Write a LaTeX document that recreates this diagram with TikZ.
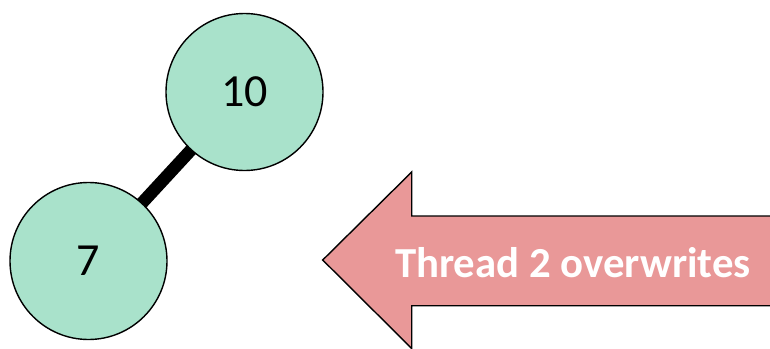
\documentclass[tikz,border=0pt]{standalone}
\usepackage{fontspec}
\setmainfont{Carlito}
\usetikzlibrary{backgrounds}
\definecolor{nodegreen}{HTML}{A9E2CB}
\definecolor{arrowpink}{HTML}{E99898}
\begin{document}
\begin{tikzpicture}[x=1pt,y=-1pt,
  treenode/.style={circle, draw=black, line width=1.4pt, fill=nodegreen,
    minimum size=157pt, inner sep=0pt, font=\fontsize{46}{52}\selectfont},
  treeedge/.style={line width=12.5pt, black},
  bigarrow/.style={draw=black, line width=1.4pt, fill=arrowpink, line join=miter}]
  \useasboundingbox (0,0) rectangle (770,348);
  \clip (0,0) rectangle (770,348);

  % binary tree fragment
  \node[treenode] (ten) at (244.5,92) {10};
  \node[treenode] (seven) at (88.5,261) {7};
  \begin{scope}[on background layer]
    \draw[treeedge] (ten.center) -- (seven.center);
  \end{scope}

  % block arrow pointing to the tree
  \draw[bigarrow] (322.7,260) -- (411.7,172) -- (411.7,216) -- (790,216)
    -- (790,305.7) -- (411.7,305.7) -- (411.7,348.5) -- cycle;
  \node[anchor=base, text=white, font=\fontsize{42.8}{50}\selectfont\bfseries]
    (label) at (573,277) {Thread 2 overwrites};
\end{tikzpicture}
\end{document}
